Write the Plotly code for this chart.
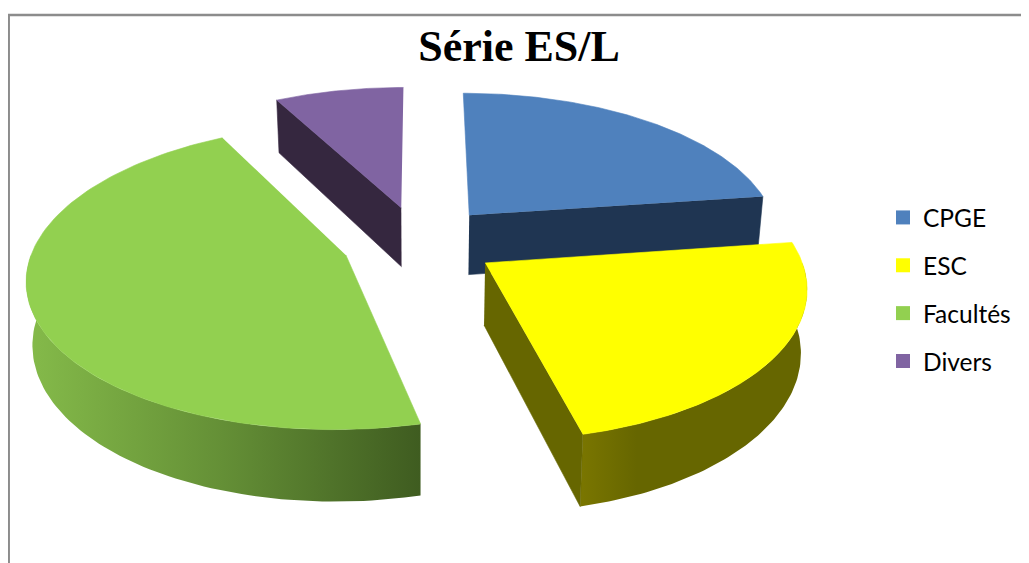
import numpy as np
import plotly.graph_objects as go

# ---- data ----
categories = ["CPGE", "ESC", "Facultés", "Divers"]
shares = [22.8, 23.4, 46.0, 7.8]

# ---- style ----
top_colors = ["#4F81BD", "#FFFF00", "#92D050", "#8064A2"]
wall_colors = {
    "CPGE": ["#1F3552", "#1F3552"],
    "ESC": ["#7A7600", "#666600", "#666600", "#666600", "#666600"],
    "Facultés": ["#85BB4A", "#648F36", "#3F5C20"],
    "Divers": ["#35273F", "#35273F"],
}
cut_colors = {"CPGE": "#1F3552", "ESC": "#666600", "Facultés": "#3F5C20", "Divers": "#35273F"}

# ---- tilted, exploded pie projection (view geometry, in axis units) ----
CX, CY = 419.5, 242.0
RX, RY = 311.0, 146.0
PERSP = 0.14
DEPTH = 61.0
PULL = 0.25
FLOOR_SHRINK = 0.984

# the page puts the figure 8 px in from its top-left corner
PAGE_W, PAGE_H, INSET = 1029, 563, 8


def project(a_deg, r, mid_deg, lowered):
    a = np.radians(a_deg)
    m = np.radians(mid_deg)
    u = r * np.sin(a) + PULL * np.sin(m)
    v = r * np.cos(a) + PULL * np.cos(m)
    w = 1 + PERSP * v
    x = RX * u / w * (FLOOR_SHRINK if lowered else 1)
    y = CY + (-RY * v + (DEPTH if lowered else 0)) / w
    return CX + x, y


fig = go.Figure()


def add_poly(xs, ys, color=None, stops=None):
    kw = dict(x=list(xs), y=list(ys), mode="lines", fill="toself",
              hoverinfo="skip", showlegend=False)
    if stops:
        n = len(stops) - 1
        kw["line"] = dict(width=0)
        kw["fillgradient"] = dict(type="horizontal",
                                  colorscale=[[i / n, c] for i, c in enumerate(stops)])
    else:
        kw["line"] = dict(width=0.6, color=color)
        kw["fillcolor"] = color
    fig.add_trace(go.Scatter(**kw))


edges = np.cumsum([0] + shares) / sum(shares) * 360
slices = {c: (edges[i], edges[i + 1]) for i, c in enumerate(categories)}
color_of = dict(zip(categories, top_colors))

for name in ["Divers", "CPGE", "Facultés", "ESC"]:
    a0, a1 = slices[name]
    mid = (a0 + a1) / 2
    ax, ay = project(0, 0, mid, False)
    bx, by = project(0, 0, mid, True)

    # rim wall: the front half of the circle
    w0, w1 = max(a0, 90), min(a1, 270)
    if w1 > w0:
        th = np.linspace(w0, w1, 80)
        tx, ty = project(th, 1, mid, False)
        lx, ly = project(th, 1, mid, True)
        add_poly(np.r_[tx, lx[::-1]], np.r_[ty, ly[::-1]], stops=wall_colors[name])

    # flat cut faces: keep those facing the viewer
    for edge, sign in ((a0, -1), (a1, 1)):
        ex, ey = project(edge, 1, mid, False)
        if sign * -np.sin(np.radians(edge)) < 0 and name != "Facultés":
            fx, fy = project(edge, 1, mid, True)
            add_poly([ax, ex, fx, bx], [ay, ey, fy, by], color=cut_colors[name])

    # top face
    th = np.linspace(a0, a1, 120)
    tx, ty = project(th, 1, mid, False)
    add_poly(np.r_[ax, tx], np.r_[ay, ty], color=color_of[name])

for name, col in zip(categories, top_colors):
    fig.add_trace(go.Scatter(x=[None], y=[None], mode="markers", name=name, legendgroup=name,
                             marker=dict(symbol="square", size=14, color=col)))

W = PAGE_W - INSET
H = PAGE_H - INSET
fig.update_layout(
    width=W, height=H, margin=dict(l=0, r=0, t=0, b=0),
    paper_bgcolor="white", plot_bgcolor="white",
    xaxis=dict(range=[INSET, PAGE_W], visible=False, fixedrange=True),
    yaxis=dict(range=[PAGE_H, INSET], visible=False, fixedrange=True),
    title=dict(text="<b>Série ES/L</b>", x=(519 - INSET) / W, xanchor="center",
               y=1 - (46 - INSET) / H, yanchor="middle",
               font=dict(family="Liberation Serif", size=44, color="black")),
    legend=dict(x=(883 - INSET) / W, xanchor="left", y=1 - (195 - INSET) / H, yanchor="top", tracegroupgap=13,
                font=dict(family="Lato", size=24.5, color="black"), bgcolor="rgba(0,0,0,0)"),
    shapes=[dict(type="rect", xref="x", yref="y", x0=8.7, x1=1100, y0=15, y1=640,
                 line=dict(color="#8C8C8C", width=2.5), layer="below")],
)

fig.write_html("out.html")
